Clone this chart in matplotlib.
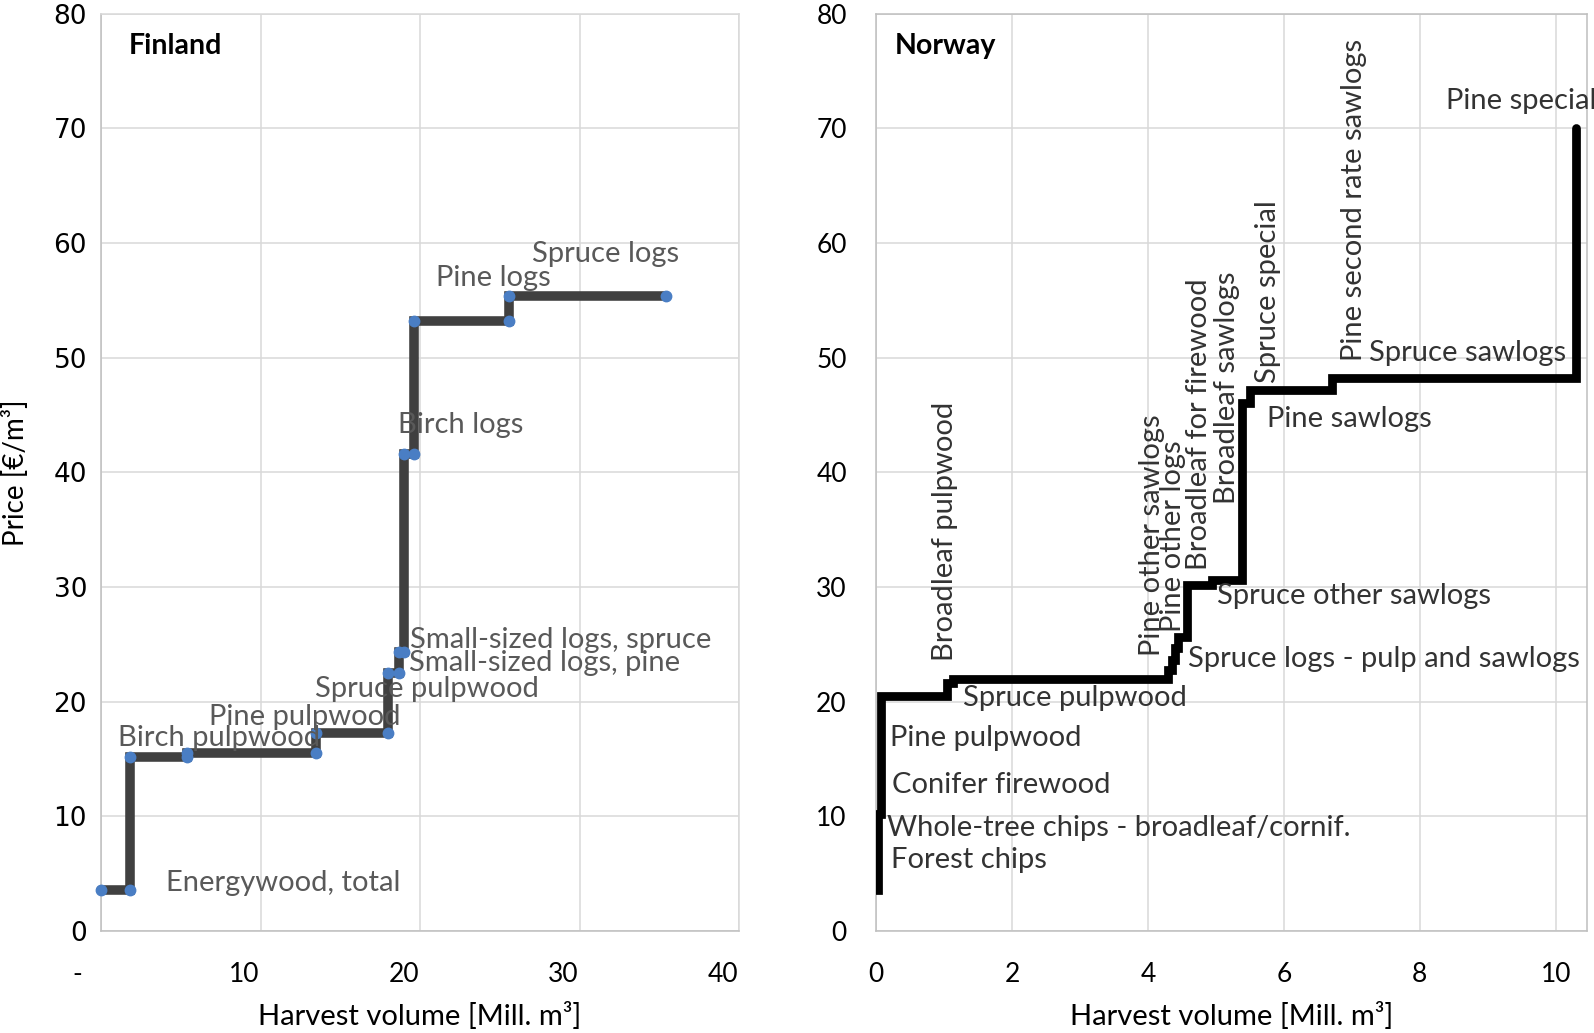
import numpy as np
import matplotlib
matplotlib.use("Agg")
import matplotlib.pyplot as plt
from matplotlib.transforms import ScaledTranslation

plt.rcParams["font.family"] = ["Lato", "DejaVu Sans"]

# Finland: products in price order, harvest volume (Mill. m3) and price (EUR/m3)
fin_products = ["Energywood, total", "Birch pulpwood", "Pine pulpwood", "Spruce pulpwood",
                "Small-sized logs, pine", "Small-sized logs, spruce", "Birch logs",
                "Pine logs", "Spruce logs"]
fin_volume = [1.8, 3.6, 8.1, 4.5, 0.7, 0.3, 0.6, 6.0, 9.8]
fin_price = [3.6, 15.2, 15.5, 17.3, 22.5, 24.3, 41.6, 53.2, 55.4]
# label anchor (x, y) in data units
fin_label_x = [4.05, 1.05, 6.75, 13.4, 19.3, 19.4, 18.6, 21.0, 27.0]
fin_label_y = [4.15, 16.8, 18.7, 21.1, 23.4, 25.4, 44.1, 56.9, 59.0]

# Norway: supply curve steps, volume of each step and its price
nor_volume = [0.03, 0.05, 0.96, 0.09, 3.17, 0.06, 0.04, 0.05, 0.12, 0.38, 0.44, 0.11, 1.21, 3.59, 0.0]
nor_price = [3.6, 10.2, 20.5, 21.6, 22.0, 22.8, 23.6, 24.7, 25.6, 30.2, 30.6, 46.0, 47.2, 48.2, 70.0]

nor_h_labels = ["Forest chips", "Whole-tree chips - broadleaf/cornif.", "Conifer firewood",
                "Pine pulpwood", "Spruce pulpwood", "Spruce logs - pulp and sawlogs",
                "Spruce other sawlogs", "Pine sawlogs", "Spruce sawlogs", "Pine special"]
nor_h_x = [0.22, 0.16, 0.23, 0.21, 1.28, 4.59, 5.01, 5.75, 7.26, 8.39]
nor_h_y = [6.2, 9.0, 12.7, 16.8, 20.3, 23.7, 29.2, 44.6, 50.4, 72.4]

nor_v_labels = ["Broadleaf pulpwood", "Pine other sawlogs", "Pine other logs",
                "Broadleaf for firewood", "Broadleaf sawlogs", "Spruce special",
                "Pine second rate sawlogs"]
nor_v_x = [1.02, 4.06, 4.37, 4.75, 5.17, 5.76, 7.03]
nor_v_y = [23.5, 24.0, 26.1, 31.5, 37.2, 47.8, 49.7]


def step_points(volume, price):
    ends = np.cumsum(volume)
    starts = np.concatenate([[0.0], ends[:-1]])
    xs = np.ravel(np.column_stack([starts, ends]))
    ys = np.repeat(price, 2)
    return xs, ys


GRID = "#D9D9D9"
SPINE = "#BFBFBF"
LABEL_SIZE = 21
W, H = 1594, 1033

fig = plt.figure(figsize=(W / 100, H / 100), dpi=100)
ax1 = fig.add_axes([101 / W, 1 - 931 / H, 638 / W, 917.5 / H])
ax2 = fig.add_axes([876 / W, 1 - 931 / H, 711 / W, 917.5 / H])

for ax in (ax1, ax2):
    ax.set_ylim(0, 80)
    ax.set_yticks(np.arange(0, 81, 10))
    ax.grid(True, color=GRID, linewidth=1.1)
    ax.set_axisbelow(True)
    ax.tick_params(length=0, colors="black", labelsize=19)
    for s in ax.spines.values():
        s.set_color(SPINE)
        s.set_linewidth(1.1)

# Finland
ax1.set_xlim(0, 40)
ax1.set_xticks([0, 10, 20, 30, 40])
ax1.set_xticklabels(["-", "10", "20", "30", "40"])
ax1.tick_params(axis="y", pad=10, labelsize=19)
ax1.tick_params(axis="x", pad=22)
for lab in ax1.get_yticklabels():
    lab.set_fontfamily("DejaVu Sans")
# Excel-style accounting labels sit left of their gridlines
shifts = [-0.24, -0.16, -0.16, -0.16, -0.16]
for lab, dx in zip(ax1.get_xticklabels(), shifts):
    lab.set_transform(lab.get_transform() + ScaledTranslation(dx, 0, fig.dpi_scale_trans))
for side in ("top", "right"):
    ax1.spines[side].set_color(GRID)

fx, fy = step_points(fin_volume, fin_price)
ax1.plot(fx, fy, color="#404040", linewidth=6.9, solid_joinstyle="miter",
         solid_capstyle="round", zorder=3, clip_on=False)
ax1.plot(fx, fy, linestyle="none", marker="o", markersize=7.5, color="#4A7EC4",
         zorder=4, clip_on=False)
for name, lx, ly in zip(fin_products, fin_label_x, fin_label_y):
    ax1.text(lx, ly, name, ha="left", va="center", fontsize=LABEL_SIZE, color="#595959", zorder=5)
ax1.text(1.75, 77.2, "Finland", ha="left", va="center", fontsize=20.5,
         fontweight="bold", color="black")
ax1.text(-0.1345, 0.5, "Price [€/m³]", transform=ax1.transAxes, rotation=90,
         ha="center", va="center", fontsize=20,
         family=["Liberation Sans Narrow", "Lato", "DejaVu Sans"])
ax1.text(0.5, -0.093, "Harvest volume [Mill. m³]", transform=ax1.transAxes,
         ha="center", va="center", fontsize=21)

# Norway
ax2.set_xlim(0, 10.46)
ax2.set_xticks(np.arange(0, 11, 2))
ax2.tick_params(axis="y", pad=21)
ax2.tick_params(axis="x", pad=22)

nx, ny = step_points(nor_volume, nor_price)
ax2.plot(nx, ny, color="black", linewidth=6.3, solid_joinstyle="miter",
         solid_capstyle="round", zorder=3)
for name, lx, ly in zip(nor_h_labels, nor_h_x, nor_h_y):
    ax2.text(lx, ly, name, ha="left", va="center", fontsize=LABEL_SIZE, color="#333333",
             zorder=5, clip_on=False)
for name, lx, ly in zip(nor_v_labels, nor_v_x, nor_v_y):
    ax2.text(lx, ly, name, ha="center", va="bottom", rotation=90, fontsize=LABEL_SIZE,
             color="#333333", zorder=5)
ax2.text(0.28, 77.2, "Norway", ha="left", va="center", fontsize=20.5,
         fontweight="bold", color="black")
ax2.text(0.5, -0.093, "Harvest volume [Mill. m³]", transform=ax2.transAxes,
         ha="center", va="center", fontsize=21)

fig.savefig("out.png", dpi=100)
